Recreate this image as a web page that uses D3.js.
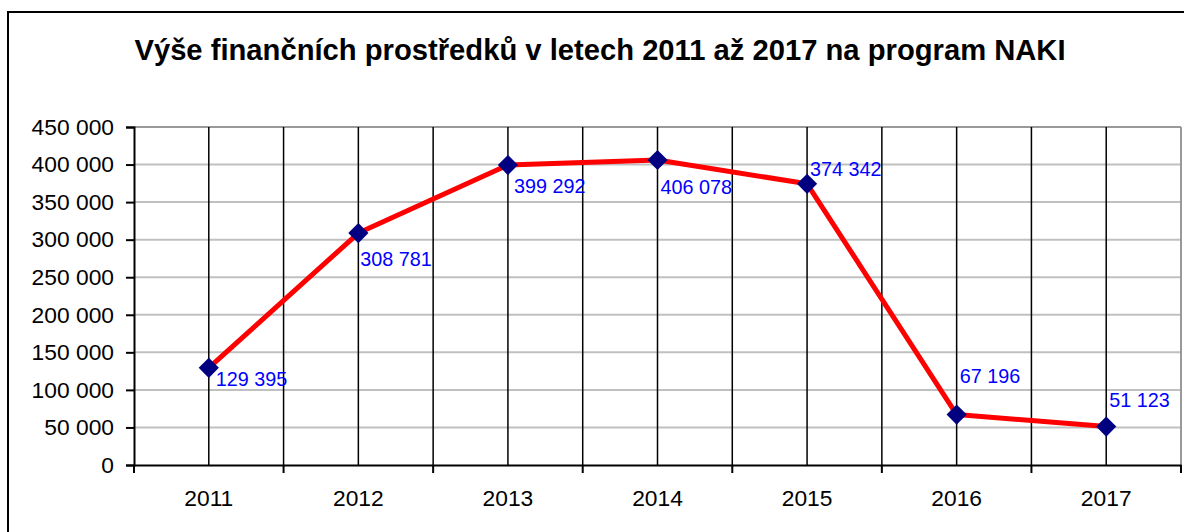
<!DOCTYPE html>
<html>
<head>
<meta charset="utf-8">
<script src="https://cdn.jsdelivr.net/npm/d3@7"></script>
<style>
  html, body { margin: 0; padding: 0; background: #fff; }
  svg { display: block; font-family: "Liberation Sans", Arial, sans-serif; }
</style>
</head>
<body>
<svg id="chart" width="1184" height="532"></svg>
<script>
// data
const years = ["2011", "2012", "2013", "2014", "2015", "2016", "2017"];
const amounts = [129395, 308781, 399292, 406078, 374342, 67196, 51123];
const yTicks = [0, 50000, 100000, 150000, 200000, 250000, 300000, 350000, 400000, 450000];
// where each value label sits relative to its marker
const labelDx = [7, 2, 6, 3, 3, 3, 3];
const labelDy = [18, 33, 28, 34, -8, -32, -20];

const svg = d3.select("#chart");
const plot = { left: 134, right: 1181, top: 127, bottom: 465 };

const fmt = v => d3.format(",")(v).replace(/,/g, " ");

// outer frame
svg.append("rect")
    .attr("x", 8).attr("y", 12)
    .attr("width", 1200).attr("height", 560)
    .attr("fill", "none").attr("stroke", "#000").attr("stroke-width", 2);

svg.append("text")
    .attr("x", 600).attr("y", 60)
    .attr("text-anchor", "middle")
    .attr("font-size", 29.2).attr("font-weight", "bold")
    .text("Výše finančních prostředků v letech 2011 až 2017 na program NAKI");

const x = d3.scaleBand().domain(years).range([plot.left, plot.right]);
const y = d3.scaleLinear().domain([0, 450000]).range([plot.bottom, plot.top]);
const cx = d => x(d) + x.bandwidth() / 2;

// horizontal grid
svg.append("g").selectAll("line").data(yTicks.slice(1)).enter().append("line")
    .attr("x1", plot.left).attr("x2", plot.right)
    .attr("y1", d => y(d)).attr("y2", d => y(d))
    .attr("stroke", d => d === 450000 ? "#999" : "#c0c0c0").attr("stroke-width", 2);

// right edge of plot area
svg.append("line")
    .attr("x1", plot.right).attr("x2", plot.right)
    .attr("y1", plot.top).attr("y2", plot.bottom)
    .attr("stroke", "#999").attr("stroke-width", 2);

// vertical grid: category centres and boundaries
const vlines = years.map(cx).concat(years.slice(1).map(d => x(d)));
svg.append("g").selectAll("line").data(vlines).enter().append("line")
    .attr("x1", d => d).attr("x2", d => d)
    .attr("y1", plot.top).attr("y2", plot.bottom)
    .attr("stroke", "#000").attr("stroke-width", 1.5);

// y axis
const yAxis = svg.append("g")
    .attr("transform", `translate(${plot.left},0)`)
    .call(d3.axisLeft(y).tickValues(yTicks).tickFormat(fmt).tickSize(8).tickPadding(12));
yAxis.select(".domain").attr("stroke", "#000").attr("stroke-width", 2);
yAxis.selectAll(".tick line").attr("stroke", "#000").attr("stroke-width", 2);
yAxis.selectAll("text").attr("font-size", 22.8).attr("font-family", "Liberation Sans, Arial").attr("fill", "#000");

// x axis
const xAxis = svg.append("g")
    .attr("transform", `translate(0,${plot.bottom})`)
    .call(d3.axisBottom(x).tickSize(0).tickPadding(25));
xAxis.select(".domain").attr("stroke", "#000").attr("stroke-width", 2);
xAxis.selectAll("text").attr("font-size", 22.8).attr("font-family", "Liberation Sans, Arial").attr("fill", "#000");
svg.append("g").selectAll("line").data(years.map(d => x(d)).concat([plot.right])).enter().append("line")
    .attr("x1", d => d).attr("x2", d => d)
    .attr("y1", plot.bottom).attr("y2", plot.bottom + 8)
    .attr("stroke", "#000").attr("stroke-width", 2);

// series line
const line = d3.line().x((d, i) => cx(years[i])).y(d => y(d));
svg.append("path")
    .datum(amounts)
    .attr("d", line)
    .attr("fill", "none").attr("stroke", "#ff0000").attr("stroke-width", 5)
    .attr("stroke-linejoin", "round");

// markers
svg.append("g").selectAll("path").data(amounts).enter().append("path")
    .attr("transform", (d, i) => `translate(${cx(years[i])},${y(d)})`)
    .attr("d", d3.symbol(d3.symbolDiamond2, 260)())
    .attr("fill", "#000080");

// value labels
svg.append("g").selectAll("text").data(amounts).enter().append("text")
    .attr("x", (d, i) => cx(years[i]) + labelDx[i])
    .attr("y", (d, i) => y(d) + labelDy[i])
    .attr("font-size", 19.8).attr("fill", "#0000ff")
    .text(fmt);
</script>
</body>
</html>
